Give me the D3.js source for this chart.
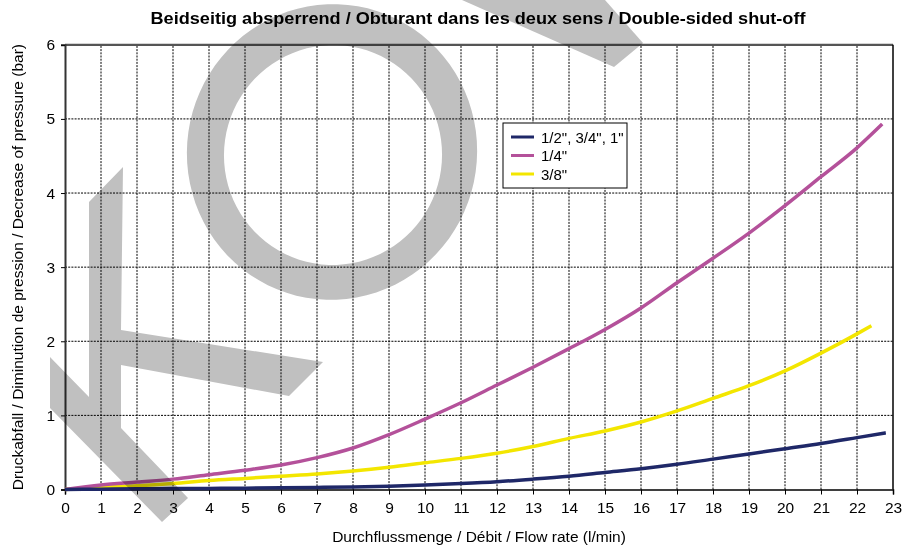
<!DOCTYPE html>
<html>
<head>
<meta charset="utf-8">
<script src="https://cdn.jsdelivr.net/npm/d3@7/dist/d3.min.js"></script>
<style>
  html, body { margin: 0; padding: 0; background: #fff; }
  svg { display: block; font-family: "Liberation Sans", Arial, sans-serif; }
</style>
</head>
<body>
<svg id="chart" width="903" height="546"></svg>
<script>
// Pressure drop vs. flow rate, double-sided shut-off couplings
const titleText = "Beidseitig absperrend / Obturant dans les deux sens / Double-sided shut-off";
const xLabel = "Durchflussmenge / Débit / Flow rate (l/min)";
const yLabel = "Druckabfall / Diminution de pression / Decrease of pressure (bar)";

const xTicks = d3.range(0, 24);   // 0 … 23 l/min
const yTicks = d3.range(0, 7);    // 0 … 6 bar

const seriesNames = ['1/2", 3/4", 1"', '1/4"', '3/8"'];
const seriesColors = ["#1f2868", "#b4519a", "#f3e600"];

const flowLarge = [0,1,2,3,4,5,6,7,8,9,10,11,12,13,14,15,16,17,18,19,20,21,22,22.8];
const dropLarge = [0,0.005,0.01,0.012,0.015,0.018,0.022,0.028,0.035,0.045,0.06,0.08,0.105,0.14,0.18,0.23,0.28,0.34,0.41,0.48,0.55,0.62,0.70,0.765];

const flowQuarter = [0,1,2,3,4,5,6,7,8,9,10,11,12,13,14,15,16,17,18,19,20,21,22,22.7];
const dropQuarter = [0,0.06,0.10,0.14,0.20,0.26,0.33,0.43,0.56,0.74,0.95,1.17,1.41,1.65,1.90,2.16,2.45,2.79,3.12,3.46,3.83,4.22,4.61,4.93];

const flowThreeEighth = [0,1,2,3,4,5,6,7,8,9,10,11,12,13,14,15,16,17,18,19,20,21,22,22.4];
const dropThreeEighth = [0,0.03,0.05,0.08,0.12,0.15,0.18,0.21,0.25,0.30,0.36,0.42,0.49,0.58,0.69,0.79,0.91,1.06,1.23,1.40,1.60,1.84,2.10,2.21];

const svg = d3.select("#chart");
const W = 903, H = 546;
const FONT = "Liberation Sans, Arial, sans-serif";

const x = d3.scaleLinear().domain([0, 23]).range([65, 893]);
const y = d3.scaleLinear().domain([0, 6]).range([489.5, 44.8]);

svg.append("rect").attr("width", W).attr("height", H).attr("fill", "#fff");

// grid
const grid = svg.append("g");
grid.selectAll("line.v").data(xTicks.slice(1, -1)).join("line")
  .attr("x1", d => x(d)).attr("x2", d => x(d))
  .attr("y1", y(0)).attr("y2", y(6))
  .attr("stroke", "#000").attr("stroke-width", 1).attr("stroke-dasharray", "2,1.2");
grid.selectAll("line.h").data(yTicks.slice(1, -1)).join("line")
  .attr("x1", x(0)).attr("x2", x(23))
  .attr("y1", d => y(d)).attr("y2", d => y(d))
  .attr("stroke", "#000").attr("stroke-width", 1).attr("stroke-dasharray", "2,1.2");

// frame
svg.append("line").attr("x1", x(0)).attr("x2", x(23)).attr("y1", y(6)).attr("y2", y(6))
  .attr("stroke", "#555").attr("stroke-width", 2.2);
svg.append("line").attr("x1", x(23)).attr("x2", x(23)).attr("y1", y(6)).attr("y2", y(0))
  .attr("stroke", "#000").attr("stroke-width", 1.5);

// axes
const xAxis = d3.axisBottom(x).tickValues(xTicks).tickSize(5).tickPadding(7).tickFormat(d3.format("d"));
const gx = svg.append("g").attr("transform", `translate(0,${y(0)})`).call(xAxis);
gx.select(".domain").attr("stroke", "#000").attr("stroke-width", 1.5);
gx.selectAll(".tick line").attr("stroke", "#000");
gx.selectAll(".tick text").attr("font-size", 15.5).attr("fill", "#000").attr("font-family", FONT);

const yAxis = d3.axisLeft(y).tickValues(yTicks).tickSize(4).tickPadding(6).tickFormat(d3.format("d"));
const gy = svg.append("g").attr("transform", `translate(${x(0)},0)`).call(yAxis);
gy.select(".domain").attr("stroke", "#333").attr("stroke-width", 2);
gy.selectAll(".tick line").attr("stroke", "#000");
gy.selectAll(".tick text").attr("font-size", 15.5).attr("fill", "#000").attr("font-family", FONT);

// curves
const line = d3.line().x(d => x(d[0])).y(d => y(d[1])).curve(d3.curveMonotoneX);
const seriesData = [
  d3.zip(flowLarge, dropLarge),
  d3.zip(flowQuarter, dropQuarter),
  d3.zip(flowThreeEighth, dropThreeEighth)
];
const drawOrder = [2, 1, 0];
svg.append("g").selectAll("path").data(drawOrder).join("path")
  .attr("d", i => line(seriesData[i]))
  .attr("fill", "none")
  .attr("stroke", i => seriesColors[i])
  .attr("stroke-width", 3.5)
  .attr("stroke-linecap", "butt");

// legend
const lg = svg.append("g").attr("transform", "translate(503,123)");
lg.append("rect").attr("width", 124).attr("height", 65)
  .attr("fill", "#fff").attr("stroke", "#000").attr("stroke-width", 1);
seriesNames.forEach((name, i) => {
  const yy = 14 + i * 18.5;
  lg.append("line").attr("x1", 8).attr("x2", 31).attr("y1", yy).attr("y2", yy)
    .attr("stroke", seriesColors[i]).attr("stroke-width", 3);
  lg.append("text").attr("x", 38).attr("y", yy + 5.5).attr("font-size", 15)
    .attr("fill", "#000").text(name);
});

// titles
svg.append("text").attr("x", 478).attr("y", 23.5).attr("text-anchor", "middle")
  .attr("font-size", 16).attr("font-weight", "bold").attr("fill", "#000")
  .attr("textLength", 655).attr("lengthAdjust", "spacingAndGlyphs").text(titleText);
svg.append("text").attr("x", 479).attr("y", 542).attr("text-anchor", "middle")
  .attr("font-size", 15.5).attr("fill", "#000").text(xLabel);
svg.append("text").attr("transform", `translate(23,${(y(0) + y(6)) / 2}) rotate(-90)`)
  .attr("text-anchor", "middle").attr("font-size", 15.5).attr("fill", "#000").text(yLabel);

// grey watermark lettering, multiplied over the chart
const wm = svg.append("g").style("mix-blend-mode", "multiply").attr("fill", "#c0c0c0");
// K
wm.append("path").attr("d",
  "M89,202 L123,167 L121,330 L323,362 L289,396 L121,365 L121,428 L188,498 L162,522 L50,408 L50,357 L89,397 Z");
// O ring
function ellipsePath(cx, cy, rx, ry, rot) {
  const pts = d3.range(0, 361, 4).map(a => {
    const t = a * Math.PI / 180, r = rot * Math.PI / 180;
    const ex = rx * Math.cos(t), ey = ry * Math.sin(t);
    return [cx + ex * Math.cos(r) - ey * Math.sin(r), cy + ex * Math.sin(r) + ey * Math.cos(r)];
  });
  return "M" + pts.map(p => p.join(",")).join("L") + "Z";
}
wm.append("path").attr("fill-rule", "evenodd")
  .attr("d", ellipsePath(332, 152, 145, 148, 12) + ellipsePath(333, 155, 109, 110, 12));
// V arm
wm.append("path").attr("d", "M462,0 L614,67 L643,43 L605,0 Z");
</script>
</body>
</html>
